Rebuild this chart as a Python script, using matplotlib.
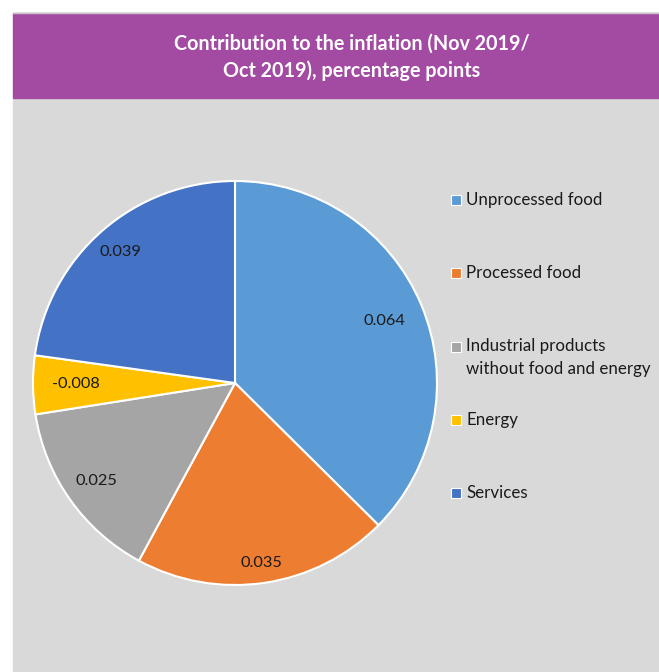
import numpy as np
import matplotlib.pyplot as plt
from matplotlib.patches import Rectangle

plt.rcParams['font.family'] = ['Lato', 'DejaVu Sans']

# data
categories = ["Unprocessed food", "Processed food",
              "Industrial products\nwithout food and energy", "Energy", "Services"]
values = [0.064, 0.035, 0.025, -0.008, 0.039]
colors = ["#5B9BD5", "#ED7D31", "#A5A5A5", "#FFC000", "#4472C4"]
title = "Contribution to the inflation (Nov 2019/\nOct 2019), percentage points"

W, H = 659, 672
fig = plt.figure(figsize=(W / 100, H / 100), dpi=100)
ax = fig.add_axes([0, 0, 1, 1])


def py(y):
    # pixel row (from top) -> data y
    return H - y


# pie (slice sizes from absolute contributions)
cx, cy, r = 235, py(383), 202
sizes = np.abs(values)
wedges, texts = ax.pie(sizes, colors=colors, startangle=90, counterclock=False,
                       center=(cx, cy), radius=r,
                       labels=[f"{v:.3f}" for v in values], labeldistance=0.84,
                       wedgeprops=dict(edgecolor="white", linewidth=1.5),
                       textprops=dict(fontsize=11.8, color="#1a1a1a"))

# label distances like the original best-fit placement
dists = [0.8, 0.9, 0.84, 0.79, 0.86]
for w, t, d in zip(wedges, texts, dists):
    a = np.deg2rad((w.theta1 + w.theta2) / 2)
    t.set_position((cx + d * r * np.cos(a), cy + d * r * np.sin(a)))
    t.set_ha("center")
    t.set_va("center")
    w.set_zorder(3)
    t.set_zorder(4)

ax.set_xlim(0, W)
ax.set_ylim(0, H)
ax.set_aspect("auto")
ax.axis("off")

# background panels
ax.add_patch(Rectangle((13, 0), W - 13, H - 98, color="#D9D9D9", zorder=0))
ax.add_patch(Rectangle((13, py(98)), W - 13, 98 - 13, color="#A34AA3", zorder=0))
ax.plot([13, W], [py(13), py(13)], color="#C8C8C8", lw=1, zorder=1)
ax.text(352, py(57), title, ha="center", va="center", color="white",
        fontsize=14.2, fontweight="bold", linespacing=1.4)

# legend
leg_y = [200, 273, 347, 420, 493]
line_h = 21
for lab, col, y in zip(categories, colors, leg_y):
    ax.add_patch(Rectangle((451, py(y) - 5), 10, 10, facecolor=col,
                           edgecolor="white", lw=0.8, zorder=3))
    n = lab.count("\n")
    ax.text(466, py(y + n * line_h / 2), lab, ha="left", va="center",
            fontsize=12.2, color="#1a1a1a", linespacing=1.55)

fig.savefig("out.png", dpi=100)
